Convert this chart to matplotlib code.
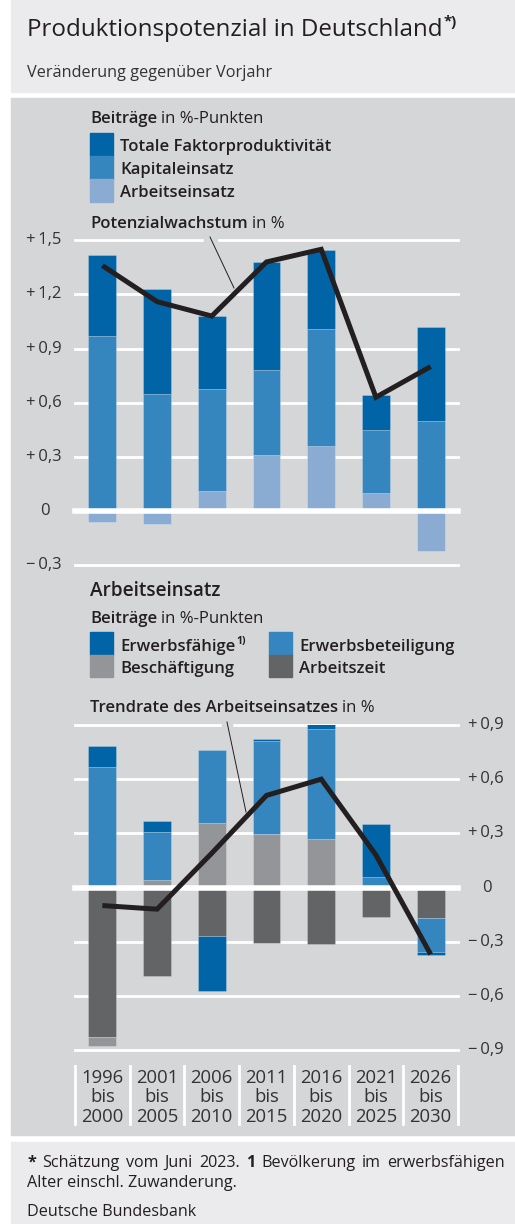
import matplotlib
matplotlib.use("Agg")
import matplotlib.pyplot as plt
import numpy as np
from matplotlib.patches import Rectangle
from matplotlib.lines import Line2D
from matplotlib.transforms import blended_transform_factory

W, H = 515, 1224

periods = ["1996\nbis\n2000", "2001\nbis\n2005", "2006\nbis\n2010", "2011\nbis\n2015",
           "2016\nbis\n2020", "2021\nbis\n2025", "2026\nbis\n2030"]

# Produktionspotenzial, Beiträge in %-Punkten
arbeit = [-0.06, -0.07, 0.11, 0.31, 0.36, 0.10, -0.22]
kapital = [0.97, 0.65, 0.565, 0.47, 0.65, 0.35, 0.50]
tfp = [0.45, 0.58, 0.405, 0.60, 0.435, 0.19, 0.52]
potenzial = [1.36, 1.16, 1.08, 1.38, 1.45, 0.63, 0.80]

# Arbeitseinsatz, Beiträge in %-Punkten
arbeitszeit = [-0.83, -0.49, -0.266, -0.31, -0.314, -0.164, -0.17]
beschaeftigung = [-0.05, 0.04, 0.356, 0.297, 0.27, 0.0, 0.0]
erwerbsbeteiligung = [0.67, 0.27, 0.404, 0.517, 0.607, 0.06, -0.186]
erwerbsfaehige = [0.115, 0.057, -0.306, 0.009, 0.033, 0.29, -0.017]
trendrate = [-0.10, -0.12, 0.19, 0.51, 0.60, 0.18, -0.37]

top_ticks = [-0.3, 0, 0.3, 0.6, 0.9, 1.2, 1.5]
top_labels = ["\u2212\u20090,3", "0", "+\u20090,3", "+\u20090,6", "+\u20090,9", "+\u20091,2", "+\u20091,5"]
bot_ticks = [-0.9, -0.6, -0.3, 0, 0.3, 0.6, 0.9]
bot_labels = ["\u2212\u20090,9", "\u2212\u20090,6", "\u2212\u20090,3", "0", "+\u20090,3", "+\u20090,6", "+\u20090,9"]

C_TFP = "#0064a7"
C_KAP = "#3585be"
C_ARB = "#8aabd2"
C_BESCH = "#939598"
C_ZEIT = "#636466"
TXT = "#231f20"
BG_CHART = "#d5d6d8"
BG_LIGHT = "#ebebed"

plt.rcParams["font.family"] = ["Open Sans", "DejaVu Sans"]

fig = plt.figure(figsize=(W / 100, H / 100), dpi=100)
R = fig.canvas.get_renderer()


def fx(x):
    return x / W


def fy(y):
    return 1 - y / H


def box(x0, y0, x1, y1, color, z=-1):
    fig.patches.append(Rectangle((fx(x0), fy(y1)), (x1 - x0) / W, (y1 - y0) / H,
                                 transform=fig.transFigure, color=color, zorder=z))


def txt(x, y, s, size, weight="normal", **kw):
    kw.setdefault("color", TXT)
    return fig.text(fx(x), fy(y), s, fontsize=size, fontweight=weight, va="baseline", **kw)


def runs(x, y, parts, size):
    # parts: (text, weight, superscript?)
    first = True
    for s, w, sup in parts:
        if sup:
            t = txt(x + 1, y - size * 0.6, s, size * 0.62, w)
        else:
            if not first:
                x += size * 100 / 72 * 0.26
            t = txt(x, y, s, size, w)
        first = False
        x = t.get_window_extent(R).x1
    return x


def justified(x0, x1, y, words, size):
    ts = [txt(0, y, s, size, w) for s, w in words]
    widths = [t.get_window_extent(R).width for t in ts]
    gap = (x1 - x0 - sum(widths)) / (len(ts) - 1)
    x = x0
    for t, wd in zip(ts, widths):
        t.set_x(fx(x))
        x += wd + gap


# backgrounds
box(11, 0, W, 92, BG_LIGHT)
box(11, 98, W, 1135, BG_CHART)
box(11, 1142, W, H, BG_LIGHT)

# header
runs(27, 36, [("Produktionspotenzial in Deutschland", "normal", False), ("*)", "bold", True)], 17.4)
txt(27, 77, "Veränderung gegenüber Vorjahr", 11.7, color="#333333")

# legend top
LS = 12
runs(90, 123, [("Beiträge", 600, False), ("in %-Punkten", "normal", False)], LS)
for i, (lab, col) in enumerate([("Totale Faktorproduktivität", C_TFP), ("Kapitaleinsatz", C_KAP),
                                 ("Arbeitseinsatz", C_ARB)]):
    box(90, 133 + 23 * i, 113, 156 + 23 * i, col)
    txt(120, 151 + 23 * i, lab, LS, 600)
runs(90, 228, [("Potenzialwachstum", 600, False), ("in %", "normal", False)], LS)

# legend bottom
txt(90, 596, "Arbeitseinsatz", 13.7, 600)
runs(90, 623, [("Beiträge", 600, False), ("in %-Punkten", "normal", False)], LS)
leg2 = [(90, 0, "Erwerbsfähige", C_TFP), (269, 0, "Erwerbsbeteiligung", C_KAP),
        (90, 1, "Beschäftigung", C_BESCH), (269, 1, "Arbeitszeit", C_ZEIT)]
for x0, row, lab, col in leg2:
    box(x0, 632 + 22.5 * row, x0 + 23, 654.5 + 22.5 * row, col)
    if lab == "Erwerbsfähige":
        runs(x0 + 30, 651 + 22 * row, [(lab, 600, False), ("1)", "bold", True)], LS)
    else:
        txt(x0 + 30, 651 + 22 * row, lab, LS, 600)
runs(90, 712, [("Trendrate des Arbeitseinsatzes", 600, False), ("in %", "normal", False)], LS)


def stacked(ax, series):
    x = np.arange(len(periods))
    pos = np.zeros(len(x))
    neg = np.zeros(len(x))
    for vals, col in series:
        v = np.array(vals, dtype=float)
        base = np.where(v >= 0, pos, neg)
        ax.bar(x, v, 0.51, bottom=base, color=col, edgecolor=(1, 1, 1, 0.25), linewidth=0.6, zorder=2)
        pos = pos + np.where(v >= 0, v, 0)
        neg = neg + np.where(v < 0, v, 0)


def grid(ax, ticks):
    for v in ticks:
        if v == 0:
            ax.axhline(0, color="white", lw=4, zorder=3, clip_on=False)
        else:
            ax.axhline(v, color="white", lw=2, zorder=1, clip_on=False)


# top panel
ax1 = fig.add_axes([fx(75), fy(565), (458 - 75) / W, (565 - 240.3) / H])
ax1.set_xlim(-0.5, 6.5)
ax1.set_ylim(-0.3, 1.5)
ax1.axis("off")
grid(ax1, top_ticks)
stacked(ax1, [(arbeit, C_ARB), (kapital, C_KAP), (tfp, C_TFP)])
ax1.plot(np.arange(len(periods)), potenzial, color=TXT, lw=3.6, zorder=4,
         solid_joinstyle="miter", solid_capstyle="butt")
tr1 = blended_transform_factory(fig.transFigure, ax1.transData)
for v, lab in zip(top_ticks, top_labels):
    ax1.text(fx(40 if v == 0 else 26), v, lab, transform=tr1, ha="left", va="center",
             fontsize=12, color="#333333")

# bottom panel
ax2 = fig.add_axes([fx(75), fy(1050), (458 - 75) / W, (1050 - 725) / H])
ax2.set_xlim(-0.5, 6.5)
ax2.set_ylim(-0.9, 0.9)
ax2.axis("off")
grid(ax2, bot_ticks)
stacked(ax2, [(arbeitszeit, C_ZEIT), (beschaeftigung, C_BESCH),
              (erwerbsbeteiligung, C_KAP), (erwerbsfaehige, C_TFP)])
ax2.plot(np.arange(len(periods)), trendrate, color=TXT, lw=3.6, zorder=4,
         solid_joinstyle="miter", solid_capstyle="butt")
tr2 = blended_transform_factory(fig.transFigure, ax2.transData)
for v, lab in zip(bot_ticks, bot_labels):
    ax2.text(fx(482 if v == 0 else 468), v, lab, transform=tr2, ha="left", va="center",
             fontsize=12, color="#333333")

# category labels with separators
trx = blended_transform_factory(ax2.transData, fig.transFigure)
for i, lab in enumerate(periods):
    ax2.text(i, fy(1097.5), lab, transform=trx, ha="center", va="center", fontsize=13.3,
             color="#333333", linespacing=1.13)
for i in range(len(periods) + 1):
    ax2.plot([i - 0.5, i - 0.5], [fy(1066), fy(1124)], transform=trx, color="white", lw=2,
             clip_on=False)

# leader lines
for (x0, y0, x1, y1), gy, gx in [((210, 237, 234, 288), 240.3, (205, 216)),
                                 ((227, 722, 246, 812), 725, (223, 231))]:
    fig.add_artist(Line2D([fx(gx[0]), fx(gx[1])], [fy(gy), fy(gy)], color=BG_CHART, lw=2.5, zorder=5))
    fig.add_artist(Line2D([fx(x0), fx(x1)], [fy(y0), fy(y1)], color=TXT, lw=0.7, zorder=6))

# footer
FS = 11.6
justified(27, 505, 1167, [("*", "bold"), ("Schätzung", "normal"), ("vom", "normal"), ("Juni", "normal"),
                          ("2023.", "normal"), ("1", "bold"), ("Bevölkerung", "normal"), ("im", "normal"),
                          ("erwerbsfähigen", "normal")], FS)
txt(27, 1187, "Alter einschl. Zuwanderung.", FS)
txt(27, 1216, "Deutsche Bundesbank", FS)

fig.savefig("out.png", dpi=100)
